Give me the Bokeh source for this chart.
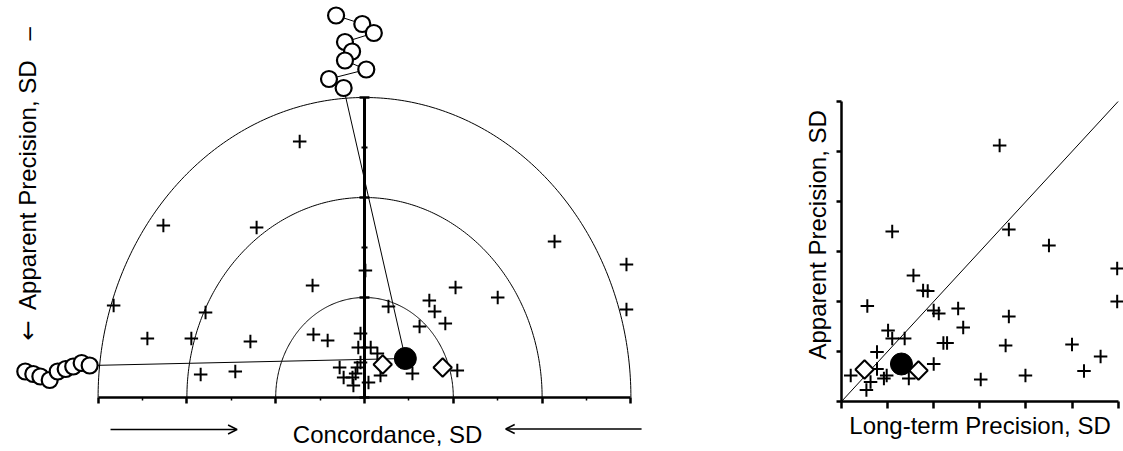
import numpy as np
from bokeh.plotting import figure
from bokeh.layouts import row
from bokeh.models import LinearAxis, FixedTicker, Arrow, OpenHead, CustomJSTickFormatter
from bokeh.core.properties import value
from bokeh.embed import file_html
from bokeh.resources import INLINE

FONT = "Liberation Sans"

# ---------------- data: left panel (concordance vs apparent precision) ----------------
conc_x = [-1.46, -4.53, -2.43, -5.65, -4.89, -3.58, -3.90, -2.57, -1.17, -3.69, -2.91,
          -1.15, -0.83, 0.02, 0.54, -0.09, 4.28, 5.90, 5.90, 2.05, 3.00, 1.46, 1.58,
          1.82, 1.24, 2.09, 1.08, -0.14, 0.14, 0.29, -0.56, -0.16, -0.20, -0.47, -0.27,
          -0.25, 0.09, 0.36, -0.09]
conc_y = [5.12, 3.44, 3.40, 1.84, 1.18, 1.70, 1.18, 1.12, 2.24, 0.46, 0.52,
          1.26, 1.14, 2.54, 1.82, 1.28, 3.12, 2.66, 1.76, 2.20, 2.00, 1.94, 1.72,
          1.48, 1.42, 0.54, 0.48, 1.00, 1.00, 0.88, 0.60, 0.60, 0.48, 0.40, 0.40,
          0.24, 0.30, 0.44, 0.70]
conc_diamond_x = [0.41, 1.76]
conc_diamond_y = [0.66, 0.60]
conc_mean_x = [0.92]
conc_mean_y = [0.78]
# projected chains of open circles (top and left)
top_x = [-0.64, -0.05, 0.21, -0.44, -0.28, -0.44, 0.04, -0.80, -0.47]
top_y = [7.64, 7.47, 7.29, 7.11, 6.92, 6.74, 6.56, 6.37, 6.19]
side_x = [-7.64, -7.46, -7.30, -7.09, -6.91, -6.73, -6.56, -6.37, -6.19]
side_y = [0.52, 0.47, 0.42, 0.35, 0.52, 0.57, 0.62, 0.69, 0.64]
arc_radii = [2, 4, 6]
conc_ticks = [-6, -4, -2, 0, 2, 4, 6]
conc_minor = [-5, -3, -1, 1, 3, 5]
ap_ticks_left = [0, 2, 4, 6]
ap_minor_left = [1, 3, 5]

# ---------------- data: right panel (long-term vs apparent precision) ----------------
lt_x = [3.43, 1.10, 3.63, 4.50, 5.98, 5.98, 1.56, 1.77, 1.87, 0.56, 2.00, 2.11,
        2.53, 2.64, 3.63, 2.21, 2.29, 3.56, 5.00, 5.62, 5.26, 3.99, 3.02, 2.00,
        1.01, 1.10, 1.37, 0.20, 0.77, 0.77, 0.98, 0.92, 0.63, 0.54, 1.46]
ap_y = [5.12, 3.40, 3.44, 3.12, 2.66, 2.00, 2.52, 2.22, 2.21, 1.91, 1.82, 1.76,
        1.86, 1.48, 1.70, 1.17, 1.17, 1.12, 1.14, 0.90, 0.61, 0.52, 0.44, 0.75,
        1.42, 1.26, 1.26, 0.52, 0.99, 0.65, 0.52, 0.46, 0.39, 0.23, 0.46]
lt_diamond_x = [0.50, 1.67]
lt_diamond_y = [0.64, 0.62]
lt_mean_x = [1.30]
lt_mean_y = [0.75]
identity = [0, 6]
lt_ticks = [0, 1, 2, 3, 4, 5, 6]

blank = CustomJSTickFormatter(code="return ''")

# ======================= left figure =======================
p1 = figure(width=688, height=450, x_range=(-8.198, 7.297), y_range=(-1.06, 7.94),
            output_backend="svg", toolbar_location=None, min_border=0,
            x_axis_type=None, y_axis_type=None)
p1.outline_line_color = None

theta = np.linspace(0, np.pi, 240)
for r in arc_radii:
    p1.line(r * np.cos(theta), r * np.sin(theta), line_color="black", line_width=1)

# connector polylines from mean point to circle chains
p1.line(conc_mean_x + top_x[::-1], conc_mean_y + top_y[::-1], line_color="black", line_width=1)
p1.line(conc_mean_x + side_x[::-1], conc_mean_y + side_y[::-1], line_color="black", line_width=1)

p1.scatter(top_x, top_y, marker="circle", size=16, fill_color="white", line_color="black", line_width=2.2)
p1.scatter(side_x, side_y, marker="circle", size=16, fill_color="white", line_color="black", line_width=2.2)

p1.scatter(conc_x, conc_y, marker="cross", size=13.5, line_color="black", line_width=2)
p1.scatter(conc_diamond_x, conc_diamond_y, marker="square", angle=np.pi / 4, size=13,
           fill_color="white", line_color="black", line_width=2)
p1.scatter(conc_mean_x, conc_mean_y, marker="circle", size=22, fill_color="black", line_color="black")

xa = LinearAxis(fixed_location=0, bounds=(-6, 6),
                ticker=FixedTicker(ticks=conc_ticks, minor_ticks=conc_minor),
                formatter=blank, major_label_text_font_size="0px",
                axis_line_width=2.5, axis_line_color="black",
                major_tick_out=6, major_tick_in=0, major_tick_line_width=2.5,
                minor_tick_out=3, minor_tick_in=0, minor_tick_line_width=1.5)
p1.add_layout(xa, "below")
ya = LinearAxis(fixed_location=0, bounds=(0, 6),
                ticker=FixedTicker(ticks=ap_ticks_left, minor_ticks=ap_minor_left),
                formatter=blank, major_label_text_font_size="0px",
                axis_line_width=3, axis_line_color="black",
                major_tick_out=5, major_tick_in=5, major_tick_line_width=2.5,
                minor_tick_out=3, minor_tick_in=3, minor_tick_line_width=2)
p1.add_layout(ya, "left")

p1.text(x=[0.52], y=[-0.74], text=["Concordance, SD"], text_font=value(FONT),
        text_font_size="24px", text_align="center", text_baseline="alphabetic", text_color="black")
p1.text(x=[-7.58], y=[4.58], text=["Apparent Precision, SD\u00a0\u00a0\u00a0\u2013"],
        angle=np.pi / 2, text_font=value(FONT), text_font_size="24px",
        text_align="center", text_baseline="alphabetic", text_color="black")
p1.text(x=[-7.58], y=[1.34], text=["\u2190"],
        angle=np.pi / 2, text_font=value("DejaVu Sans"), text_font_size="24px",
        text_align="center", text_baseline="alphabetic", text_color="black")

p1.add_layout(Arrow(end=OpenHead(size=9, line_width=1.5, line_color="black"),
                    x_start=-5.72, y_start=-0.64, x_end=-2.87, y_end=-0.64,
                    line_width=1.5, line_color="black"))
p1.add_layout(Arrow(end=OpenHead(size=9, line_width=1.5, line_color="black"),
                    x_start=6.24, y_start=-0.63, x_end=3.18, y_end=-0.63,
                    line_width=1.5, line_color="black"))

# ======================= right figure =======================
p2 = figure(width=435, height=450, x_range=(-3.319, 6.117), y_range=(-0.98, 8.02),
            output_backend="svg", toolbar_location=None, min_border=0,
            x_axis_type=None, y_axis_type=None)
p2.outline_line_color = None

p2.line(identity, identity, line_color="black", line_width=1)
p2.scatter(lt_x, ap_y, marker="cross", size=13.5, line_color="black", line_width=2)
p2.scatter(lt_diamond_x, lt_diamond_y, marker="square", angle=np.pi / 4, size=13,
           fill_color="white", line_color="black", line_width=2)
p2.scatter(lt_mean_x, lt_mean_y, marker="circle", size=22, fill_color="black", line_color="black")

xb = LinearAxis(fixed_location=0, axis_label="Long-term Precision, SD", major_tick_out=7,
                axis_label_standoff=3)
yb = LinearAxis(fixed_location=0,
                axis_label="\u00a0\u00a0\u00a0\u00a0\u00a0Apparent Precision, SD",
                major_tick_out=5, axis_label_standoff=6)
for ax in (xb, yb):
    ax.ticker = FixedTicker(ticks=lt_ticks)
    ax.bounds = (0, 6)
    ax.formatter = blank
    ax.major_label_text_font_size = "0px"
    ax.major_label_standoff = 0
    ax.axis_line_width = 2.5
    ax.axis_line_color = "black"
    ax.major_tick_in = 0
    ax.major_tick_line_width = 2.5
    ax.minor_tick_line_color = None
    ax.axis_label_text_font = FONT
    ax.axis_label_text_font_size = "24px"
    ax.axis_label_text_font_style = "normal"
    ax.axis_label_text_color = "black"
p2.add_layout(xb, "below")
p2.add_layout(yb, "left")

layout = row(p1, p2)
open("out.html", "w").write(file_html(layout, INLINE))
